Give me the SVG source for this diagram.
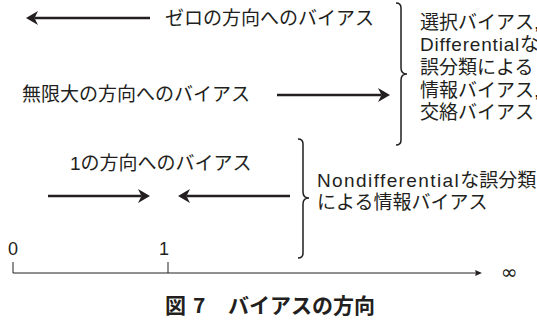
<svg xmlns="http://www.w3.org/2000/svg" width="537" height="323" viewBox="0 0 537 323">
<style>
.t{font-family:"Liberation Sans","Noto Sans CJK JP",sans-serif;font-size:19px;fill:#231f20}
.n{font-family:"Liberation Sans",sans-serif;font-size:18px;fill:#231f20;text-anchor:middle}
.cap{font-family:"Noto Sans CJK JP",sans-serif;font-size:21px;font-weight:700;fill:#231f20}
.arr{stroke:#231f20;stroke-width:2.6;fill:none}
.br{stroke:#231f20;stroke-width:1.5;fill:none}
.ax{stroke:#231f20;stroke-width:1;fill:none}
</style>
<defs>
<marker id="ah" viewBox="0 0 12 14" refX="3.5" refY="7" markerWidth="12" markerHeight="14" markerUnits="userSpaceOnUse" orient="auto">
<path d="M0,0 L12,7 L0,14 L3.5,7 Z" fill="#231f20"/>
</marker>
<marker id="ahs" viewBox="0 0 7 6" refX="1" refY="3" markerWidth="7" markerHeight="6" markerUnits="userSpaceOnUse" orient="auto">
<path d="M0,0 L7,3 L0,6 L1,3 Z" fill="#231f20"/>
</marker>
</defs>
<g id="connectors">
<line class="arr" x1="150" y1="18" x2="34.5" y2="18" marker-end="url(#ah)"/>
<line class="arr" x1="277" y1="95" x2="381.5" y2="95" marker-end="url(#ah)"/>
<line class="arr" x1="48" y1="196" x2="141.5" y2="196" marker-end="url(#ah)"/>
<line class="arr" x1="290" y1="196" x2="186.5" y2="196" marker-end="url(#ah)"/>
<path class="br" d="M396,3 Q401,3 401,8 L401,68 Q401,74 407,74 Q401,74 401,80 L401,140 Q401,145 396,145"/>
<path class="br" d="M298,139 Q303,139 303,144 L303,192 Q303,198 309,198 Q303,198 303,204 L303,253 Q303,258 298,258"/>
</g>
<g id="axis">
<line class="ax" x1="13" y1="273" x2="476" y2="273" marker-end="url(#ahs)"/>
<line class="ax" x1="13" y1="262" x2="13" y2="273"/>
<line class="ax" x1="168" y1="262" x2="168" y2="273"/>
<text class="n" x="13" y="255">0</text>
<text class="n" x="164" y="255">1</text>
<text x="509" y="279" style="font-family:'DejaVu Sans',sans-serif;font-size:20px;fill:#231f20;text-anchor:middle">∞</text>
</g>
<g id="zero-bias"><text class="t" x="165" y="25">ゼロの方向へのバイアス</text></g>
<g id="inf-bias"><text class="t" x="22" y="100.5">無限大の方向へのバイアス</text></g>
<g id="one-bias"><text class="t" x="70" y="170">1の方向へのバイアス</text></g>
<g id="group1">
<text class="t" x="420" y="28.5">選択バイアス,</text>
<text class="t" x="420" y="51.2"><tspan letter-spacing="0.8">Differential</tspan>な</text>
<text class="t" x="420" y="73.9">誤分類による</text>
<text class="t" x="420" y="96.6">情報バイアス,</text>
<text class="t" x="420" y="119.3">交絡バイアス</text>
</g>
<g id="group2">
<text class="t" x="317" y="187"><tspan letter-spacing="1.4">Nondifferential</tspan>な誤分類</text>
<text class="t" x="317" y="209">による情報バイアス</text>
</g>
<g id="caption">
<text class="cap" x="165" y="313">図</text>
<text class="cap" x="193" y="313">7</text>
<text class="cap" x="228" y="313">バイアスの方向</text>
</g>
</svg>
